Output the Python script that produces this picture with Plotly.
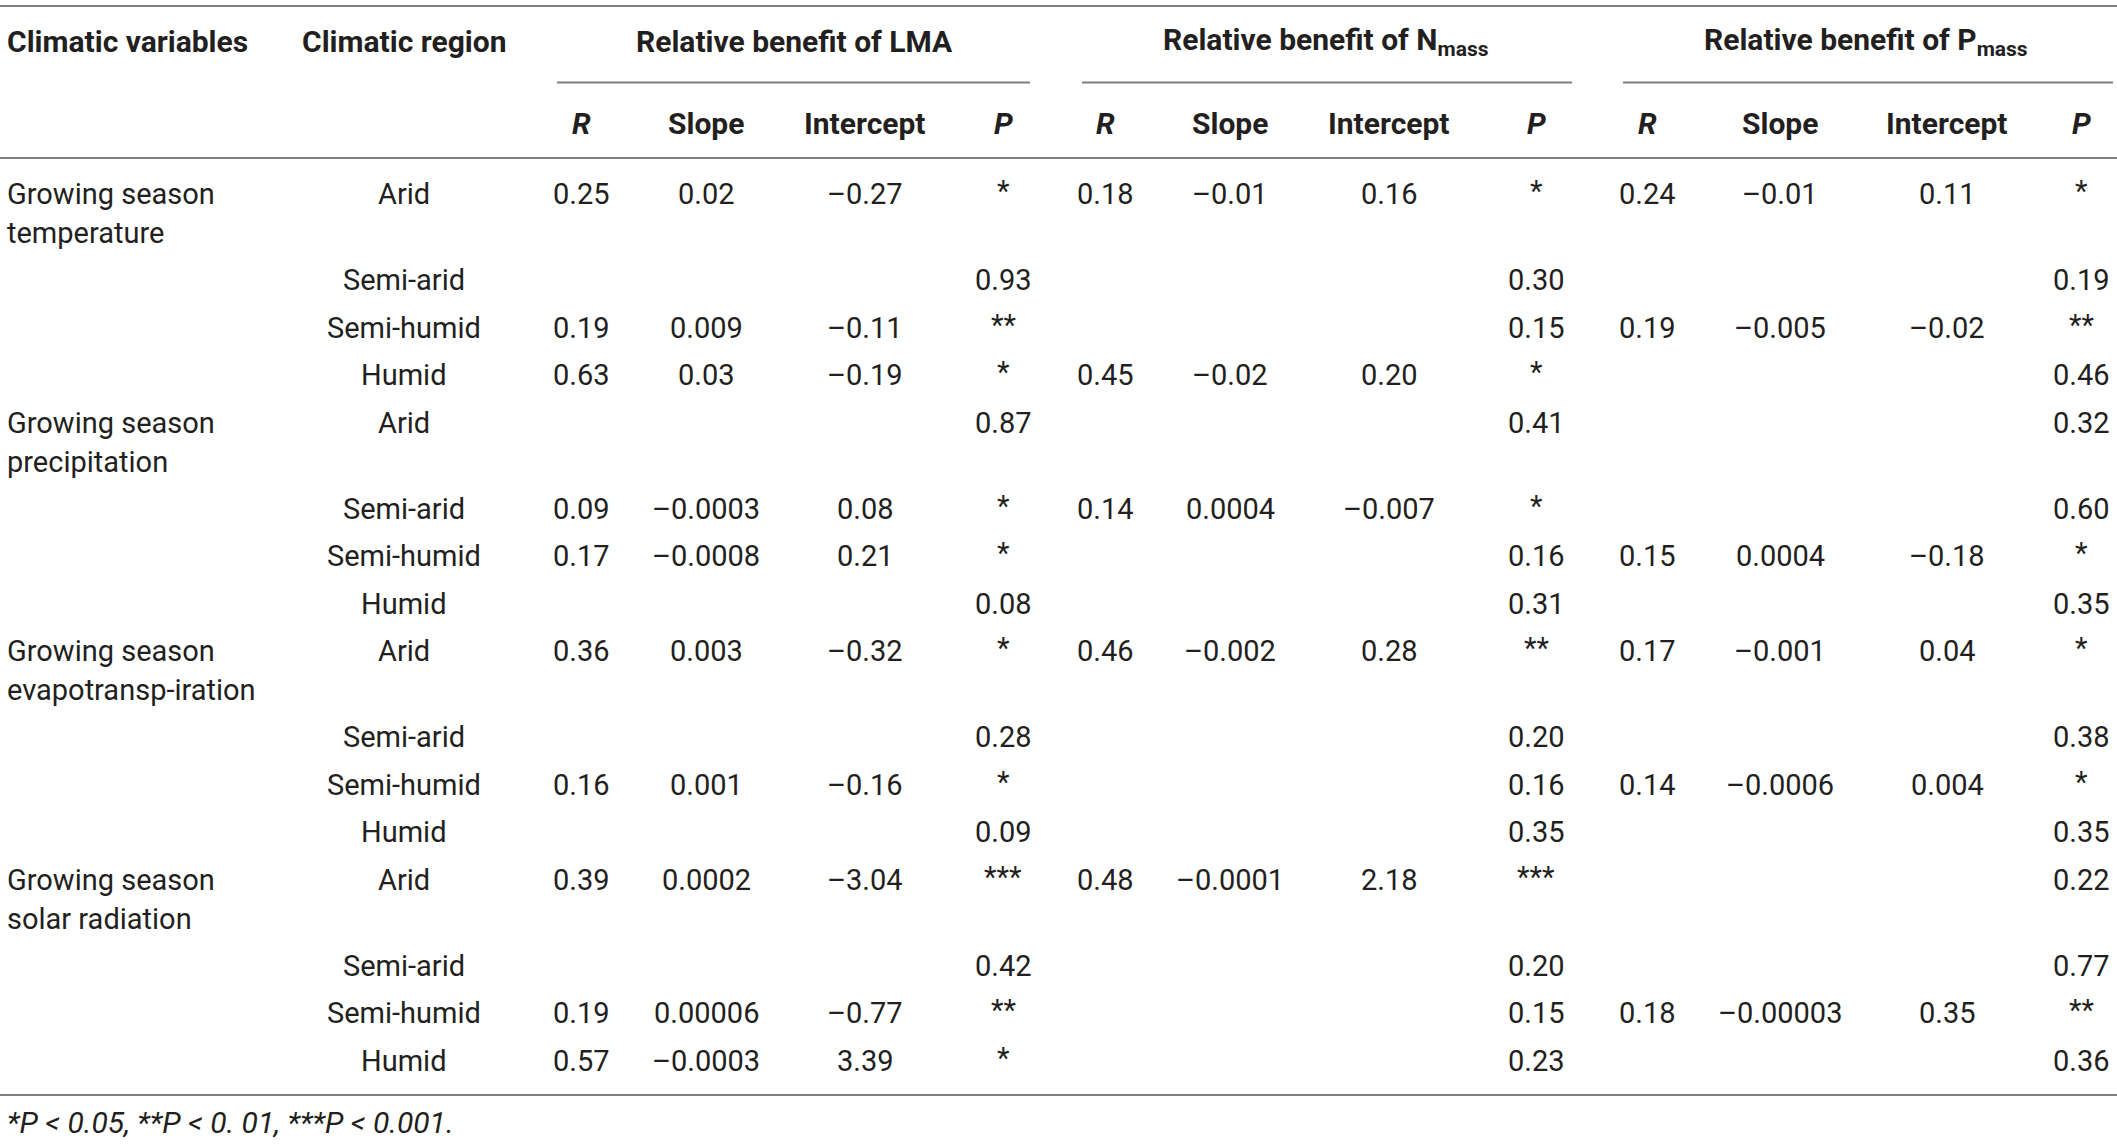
import plotly.graph_objects as go

# table content
variables = [
    "Growing season<br>temperature",
    "Growing season<br>precipitation",
    "Growing season<br>evapotransp-iration",
    "Growing season<br>solar radiation",
]
regions = ["Arid", "Semi-arid", "Semi-humid", "Humid"]

groups = ["Relative benefit of LMA",
          "Relative benefit of N<sub>mass</sub>",
          "Relative benefit of P<sub>mass</sub>"]
subcols = ["<i>R</i>", "Slope", "Intercept", "<i>P</i>"]

lma_r = ["0.25", "", "0.19", "0.63", "", "0.09", "0.17", "", "0.36", "", "0.16", "", "0.39", "", "0.19", "0.57"]
lma_slope = ["0.02", "", "0.009", "0.03", "", "\u20130.0003", "\u20130.0008", "", "0.003", "", "0.001", "",
             "0.0002", "", "0.00006", "\u20130.0003"]
lma_int = ["\u20130.27", "", "\u20130.11", "\u20130.19", "", "0.08", "0.21", "", "\u20130.32", "", "\u20130.16", "",
           "\u20133.04", "", "\u20130.77", "3.39"]
lma_p = ["*", "0.93", "**", "*", "0.87", "*", "*", "0.08", "*", "0.28", "*", "0.09", "***", "0.42", "**", "*"]

n_r = ["0.18", "", "", "0.45", "", "0.14", "", "", "0.46", "", "", "", "0.48", "", "", ""]
n_slope = ["\u20130.01", "", "", "\u20130.02", "", "0.0004", "", "", "\u20130.002", "", "", "", "\u20130.0001", "", "", ""]
n_int = ["0.16", "", "", "0.20", "", "\u20130.007", "", "", "0.28", "", "", "", "2.18", "", "", ""]
n_p = ["*", "0.30", "0.15", "*", "0.41", "*", "0.16", "0.31", "**", "0.20", "0.16", "0.35", "***", "0.20", "0.15", "0.23"]

p_r = ["0.24", "", "0.19", "", "", "", "0.15", "", "0.17", "", "0.14", "", "", "", "0.18", ""]
p_slope = ["\u20130.01", "", "\u20130.005", "", "", "", "0.0004", "", "\u20130.001", "", "\u20130.0006", "",
           "", "", "\u20130.00003", ""]
p_int = ["0.11", "", "\u20130.02", "", "", "", "\u20130.18", "", "0.04", "", "0.004", "", "", "", "0.35", ""]
p_p = ["*", "0.19", "**", "0.46", "0.32", "0.60", "*", "0.35", "*", "0.38", "*", "0.35", "0.22", "0.77", "**", "0.36"]

footnote = "*P < 0.05, **P < 0. 01, ***P < 0.001."

# layout in pixels
W, H = 2117, 1144
FONT = "Roboto"
TXT = "#231f20"
LINE = "#7f7f7f"
SIZE = 29
HSIZE = 30

col_x = [581, 706, 865, 1003, 1105, 1230, 1389, 1536, 1647, 1780, 1947, 2081]
group_x = [794, 1326, 1866]
underline = [(557, 1030), (1082, 1572), (1623, 2113)]
region_x = 404
y_head1, y_head2 = 41, 123
y_first, big_gap, small_gap, line2 = 194, 86, 47.5, 39

row_y = []
y = y_first
for g in range(len(variables)):
    for k in range(len(regions)):
        row_y.append(y)
        y += big_gap if k == 0 else small_gap

fig = go.Figure()
ann = []


def txt(x, y, s, bold=False, anchor="center", italic=False, size=SIZE):
    if bold:
        s = "<b>" + s + "</b>"
    if italic:
        s = "<i>" + s + "</i>"
    ann.append(dict(x=x, y=y, xref="x", yref="y", text=s, showarrow=False,
                    xanchor=anchor, yanchor="middle",
                    font=dict(family=FONT, size=size, color=TXT)))


# headers
txt(5, y_head1, "Climatic variables", bold=True, anchor="left", size=HSIZE)
txt(region_x, y_head1, "Climatic region", bold=True, size=HSIZE)
for gx, gname in zip(group_x, groups):
    txt(gx, y_head1, gname, bold=True, size=HSIZE)
for i, cx in enumerate(col_x):
    txt(cx, y_head2, subcols[i % 4], bold=True, size=HSIZE)

# body
for g, var in enumerate(variables):
    lines = var.split("<br>")
    base = row_y[g * len(regions)]
    for j, ln in enumerate(lines):
        txt(5, base + j * line2, ln, anchor="left")

columns = [lma_r, lma_slope, lma_int, lma_p, n_r, n_slope, n_int, n_p,
           p_r, p_slope, p_int, p_p]
for i, yy in enumerate(row_y):
    txt(region_x, yy, regions[i % len(regions)])
    for cx, col in zip(col_x, columns):
        if col[i]:
            if col[i].startswith("*"):
                txt(cx, yy - 3, col[i])
            else:
                txt(cx, yy, col[i])

txt(5, 1122, footnote, italic=True, anchor="left", size=30)

# rules
shapes = [dict(type="line", x0=0, x1=W, y0=6, y1=6),
          dict(type="line", x0=0, x1=W, y0=158, y1=158),
          dict(type="line", x0=0, x1=W, y0=1095, y1=1095)]
for x0, x1 in underline:
    shapes.append(dict(type="line", x0=x0, x1=x1, y0=82.5, y1=82.5))
for s in shapes:
    s.update(xref="x", yref="y", line=dict(color=LINE, width=2))

fig.update_layout(
    width=W, height=H,
    margin=dict(l=0, r=0, t=0, b=0),
    paper_bgcolor="white", plot_bgcolor="white",
    xaxis=dict(range=[0, W], visible=False, fixedrange=True),
    yaxis=dict(range=[H, 0], visible=False, fixedrange=True),
    annotations=ann, shapes=shapes, showlegend=False,
)

# body margin would push the fixed-size figure off the page edge
fig.write_html("out.html", config={"displayModeBar": False},
               post_script="document.body.style.margin='0';document.body.style.overflow='hidden';")
